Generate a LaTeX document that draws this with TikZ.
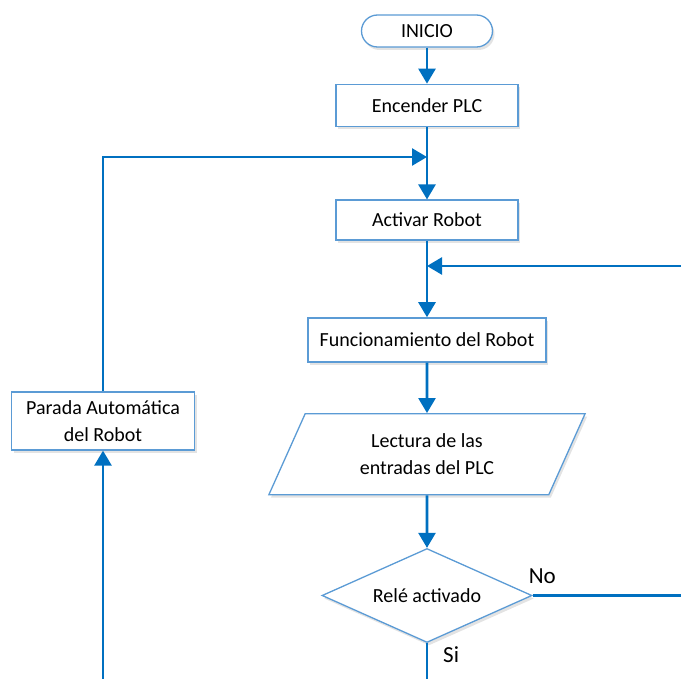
\documentclass[tikz,border=0pt]{standalone}
\usepackage{fontspec}
\setmainfont{Carlito}
\usetikzlibrary{positioning, arrows.meta, shapes.geometric, shadows}

\definecolor{boxline}{RGB}{91,155,213}
\definecolor{flowline}{RGB}{0,112,192}

\tikzset{
  base/.style={draw=boxline, line width=1.3pt, fill=white, inner sep=0pt, align=center,
    font=\fontsize{20}{27}\selectfont,
    drop shadow={opacity=0.22, shadow xshift=2pt, shadow yshift=-3pt}},
  box/.style={base, rectangle, minimum width=182pt, minimum height=42pt},
  term/.style={base, rectangle, rounded corners=16pt, minimum width=131pt, minimum height=32pt},
  data/.style={base, trapezium, trapezium left angle=64, trapezium right angle=116,
    trapezium stretches=true, minimum width=317pt, minimum height=81pt},
  decision/.style={base, diamond, aspect=2.23, minimum width=210pt, minimum height=94pt},
  flow/.style={draw=flowline, line width=2.6pt},
  answer/.style={inner sep=0pt, font=\fontsize{23}{26}\selectfont}
}

\begin{document}
\begin{tikzpicture}[x=1pt, y=-1pt, >={Triangle[width=17pt,length=15pt]}]
  \useasboundingbox (0,0) rectangle (681,679);

  % main column
  \node (inicio) [term] at (427,31) {INICIO};
  \node (plc) [box, below=36pt of inicio] {Encender PLC};
  \node (activar) [box, below=72.5pt of plc, minimum height=40pt] {Activar Robot};
  \node (func) [box, below=76.5pt of activar, minimum width=238pt, minimum height=44pt] {Funcionamiento del Robot};
  \node (lectura) [data, below=50.5pt of func] {Lectura de las\\entradas del PLC};
  \node (rele) [decision, below=52.5pt of lectura] {Relé activado};

  % stop branch
  \node (parada) [box, minimum width=183pt, minimum height=58pt] at (103,421) {Parada Automática\\del Robot};

  % junctions and loop corners
  \coordinate (jL) at (427,157);
  \coordinate (jR) at (427,266);
  \coordinate (loopR) at (700,266);
  \coordinate (loopB) at (427,700);

  \draw[flow, ->] (inicio) -- (plc);
  \draw[flow, ->] (plc) -- (activar);
  \draw[flow, ->] (activar) -- (func);
  \draw[flow, ->] (func) -- (lectura);
  \draw[flow, ->] (lectura) -- (rele);

  \draw[flow, ->] (rele.east) -| (loopR) -- (jR);
  \draw[flow, ->] (rele.south) -- (loopB) -| (parada.south);
  \draw[flow, ->] (parada.north) |- (jL);

  \node[answer, anchor=south west, xshift=-4pt, yshift=12pt] (no) at (rele.east) {No};
  \node[answer, anchor=south west, xshift=16pt, yshift=-20pt] (si) at (rele.south) {Si};
\end{tikzpicture}
\end{document}
